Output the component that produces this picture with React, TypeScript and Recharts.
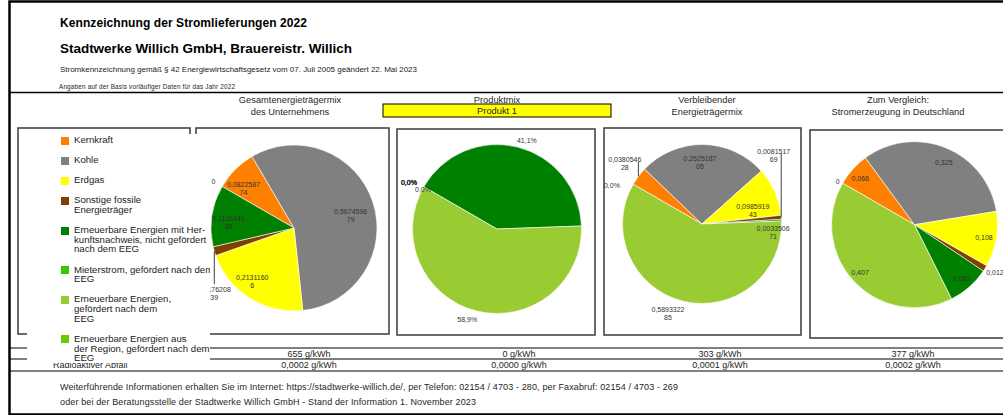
import React from "react";
import { PieChart, Pie, Cell, Legend } from "recharts";

const FONT = '"Liberation Sans", Arial, sans-serif';

// Energieträger (legend order = slice order)
const CATEGORIES = [
  "Kernkraft",
  "Kohle",
  "Erdgas",
  "Sonstige fossile\nEnergieträger",
  "Erneuerbare Energien mit Her-\nkunftsnachweis, nicht gefördert\nnach dem EEG",
  "Mieterstrom, gefördert nach dem\nEEG",
  "Erneuerbare Energien,\ngefördert nach dem\nEEG",
  "Erneuerbare Energien aus\nder Region, gefördert nach dem\nEEG",
];
const COLORS = ["#ff8000", "#808080", "#ffff00", "#804000", "#008000", "#33cc00", "#99cc33", "#66cc00"];

// Anteile je Mix
const GESAMT = [0.082258774, 0.567459679, 0.21311606, 0.017620839, 0.119544648, 0, 0, 0];
const PRODUKT = [0, 0, 0, 0, 0.411, 0, 0.589, 0];
const VERBLEIBEND = [0.038054628, 0.262518705, 0.098591943, 0.008151769, 0.003350671, 0, 0.589332285, 0];
const DEUTSCHLAND = [0.066, 0.325, 0.108, 0.012, 0.082, 0, 0.407, 0];

const COLUMN_TITLES = [
  ["Gesamtenergieträgermix", "des Unternehmens"],
  ["Produktmix"],
  ["Verbleibender", "Energieträgermix"],
  ["Zum Vergleich:", "Stromerzeugung in Deutschland"],
];
const PRODUCT_NAME = "Produkt 1";
const ROW_LABELS = ["CO₂-Emissionen", "Radioaktiver Abfall"];
const CO2 = [655, 0, 303, 377];
const ABFALL = [0.0002, 0, 0.0001, 0.0002];

// label placement: [radius factor, clockwise angle shift in deg, leader line]
type LabelPos = [number, number, boolean?] | null;
const GESAMT_LABELS: LabelPos[] = [[0.77, -7], [0.7, 5.5], [0.82, 5.6], [1.24, -23, true], [0.79, -4], null, null, [1.12, 0]];
const PRODUKT_LABELS: LabelPos[] = [[1.18, -2], [1.18, -2], [1.18, -2], [1.18, -2], [1.11, 4.6], null, [1.13, 4.2], [0.99, -2.2]];
const VERBLEIBEND_LABELS: LabelPos[] = [[1.23, 1, true], [0.77, -2.9], [0.66, 9.7], [1.25, -39, true], [0.9, 9.2], null, [1.21, 6.8], [1.23, -7.1]];
const DEUTSCHLAND_LABELS: LabelPos[] = [[0.86, -1.3], [0.83, 2.9], [0.85, 0], [1.13, -0.9], [0.86, 0], null, [0.87, 2.2], [1.06, -0.8]];

const fmtRaw = (v: number) => (v === 0 ? "0" : String(v).replace(".", ","));
const fmtPct = (v: number) => (v * 100).toFixed(1).replace(".", ",") + "%";
const fmtRest = (v: number) => (v === 0 ? fmtPct(v) : fmtRaw(v));
const fmtUnit = (v: number, d: number) => v.toFixed(d).replace(".", ",") + " g/kWh";

const PIES = [
  { key: "gesamt", values: GESAMT, cx: 294, cy: 228, r: 83, labels: GESAMT_LABELS, fmt: fmtRaw },
  { key: "produkt", values: PRODUKT, cx: 497, cy: 229, r: 84.5, labels: PRODUKT_LABELS, fmt: fmtPct },
  { key: "rest", values: VERBLEIBEND, cx: 702, cy: 224, r: 79.5, labels: VERBLEIBEND_LABELS, fmt: fmtRest },
  { key: "de", values: DEUTSCHLAND, cx: 914.5, cy: 224.7, r: 83, labels: DEUTSCHLAND_LABELS, fmt: fmtRaw },
];

const COL_X = [290, 497, 707, 898];
const ROW_X = [309, 519, 720, 913];

const RAD = Math.PI / 180;

const makeLabel = (layout: LabelPos[], fmt: (v: number) => string) => (props: any) => {
  const { cx, cy, midAngle, outerRadius, index, value } = props;
  const pos = layout[index];
  if (!pos) return null;
  const [f, shift, leader] = pos;
  const a = (midAngle - shift) * RAD;
  const x = cx + outerRadius * f * Math.cos(a);
  const y = cy - outerRadius * f * Math.sin(a);
  const s = fmt(value);
  const lines = s.length > 9 ? [s.slice(0, 9), s.slice(9)] : [s];
  const ex = cx + outerRadius * Math.cos(midAngle * RAD);
  const ey = cy - outerRadius * Math.sin(midAngle * RAD);
  return (
    <g key={`lbl-${index}`}>
      {leader && <line x1={ex} y1={ey} x2={ex} y2={y < ey ? y - 2 : y - 9} stroke="#404040" strokeWidth={1} />}
      <text x={x} y={y} textAnchor="middle" fontSize={7} fill="#333" fontFamily={FONT}>
        {lines.map((t, k) => (
          <tspan key={k} x={x} y={y + 2.5 + (lines.length > 1 ? (k === 0 ? -4 : 4) : 0)}>{t}</tspan>
        ))}
      </text>
    </g>
  );
};

const LegendBox = () => (
  <div style={{ paddingTop: 1, fontSize: 9.6, lineHeight: "9.7px", color: "#222", whiteSpace: "pre", fontFamily: FONT }}>
    {CATEGORIES.map((c, i) => (
      <div key={c} style={{ position: "relative", paddingLeft: 47, marginBottom: 10.4 }}>
        <span style={{ position: "absolute", left: 34, top: 1.5, width: 8, height: 8, background: COLORS[i] }} />
        {c}
      </div>
    ))}
  </div>
);

const BOXES = [
  [18, 128, 172, 206],
  [196, 128, 193, 206],
  [397, 129, 198, 206],
  [604, 128, 197, 207],
  [810, 130, 202, 208],
];

const Frame = () => (
  <svg width={1003} height={415} style={{ position: "absolute", left: 0, top: 0 }} fontFamily={FONT}>
    <path d="M1010 1.5 H9.5 V414.5 H1010" fill="none" stroke="#000" strokeWidth={2.5} />
    <line x1={9} y1={92.5} x2={1003} y2={92.5} stroke="#000" strokeWidth={1.5} />
    {[348, 359, 371].map((y) => (
      <line key={y} x1={9} y1={y} x2={1003} y2={y} stroke="#000" strokeWidth={1} />
    ))}
    {BOXES.map(([x, y, w, h]) => (
      <rect key={x} x={x} y={y} width={w} height={h} fill="none" stroke="#3a3a3a" strokeWidth={1.5} />
    ))}

    <text x={60} y={26.7} fontSize={12} fontWeight="bold" fill="#000" textLength={247}>Kennzeichnung der Stromlieferungen 2022</text>
    <text x={60} y={52.5} fontSize={13.5} fontWeight="bold" fill="#000" textLength={292}>Stadtwerke Willich GmbH, Brauereistr. Willich</text>
    <text x={60} y={72} fontSize={8} fill="#222" textLength={357}>Stromkennzeichnung gemäß § 42 Energiewirtschaftsgesetz vom 07. Juli 2005 geändert 22. Mai 2023</text>
    <text x={59} y={89.3} fontSize={6.3} fill="#222" textLength={176}>Angaben auf der Basis vorläufiger Daten für das Jahr 2022</text>

    {COLUMN_TITLES.map((lines, i) =>
      lines.map((t, k) => (
        <text key={`${i}-${k}`} x={COL_X[i]} y={102.5 + k * 12.8} fontSize={9.3} fill="#262626" textAnchor="middle">{t}</text>
      ))
    )}
    <rect x={383} y={104} width={228} height={13} fill="#ffff00" stroke="#000" strokeWidth={1} />
    <text x={497} y={114.2} fontSize={9.3} fill="#262626" textAnchor="middle">{PRODUCT_NAME}</text>

    <text x={53} y={356.8} fontSize={9} fill="#262626">{ROW_LABELS[0]}</text>
    <text x={53} y={368.3} fontSize={9} fill="#262626">{ROW_LABELS[1]}</text>
    {CO2.map((v, i) => (
      <text key={`c${i}`} x={ROW_X[i]} y={356.8} fontSize={9} fill="#262626" textAnchor="middle">{fmtUnit(v, 0)}</text>
    ))}
    {ABFALL.map((v, i) => (
      <text key={`a${i}`} x={ROW_X[i]} y={368.3} fontSize={9} fill="#262626" textAnchor="middle">{fmtUnit(v, 4)}</text>
    ))}

    <text x={60} y={390.2} fontSize={9} fill="#262626" textLength={618}>Weiterführende Informationen erhalten Sie im Internet: https://stadtwerke-willich.de/, per Telefon: 02154 / 4703 - 280, per Faxabruf: 02154 / 4703 - 269</text>
    <text x={60} y={405} fontSize={9} fill="#262626" textLength={416}>oder bei der Beratungsstelle der Stadtwerke Willich GmbH - Stand der Information 1. November 2023</text>
  </svg>
);

export default function App() {
  return (
    <div style={{ position: "absolute", left: 0, top: 0, width: 1003, height: 415, overflow: "hidden", background: "#fff", fontFamily: FONT }}>
      <Frame />
      <div style={{ position: "absolute", left: 0, top: 0 }}>
        <PieChart width={1003} height={415} margin={{ top: 0, right: 0, bottom: 0, left: 0 }}>
          {PIES.map((p) => (
            <Pie
              key={p.key}
              data={p.values.map((v, i) => ({ name: CATEGORIES[i], value: v }))}
              dataKey="value"
              nameKey="name"
              cx={p.cx}
              cy={p.cy}
              outerRadius={p.r}
              startAngle={150}
              endAngle={-210}
              stroke="#fff"
              strokeWidth={0.6}
              label={makeLabel(p.labels, p.fmt)}
              labelLine={false}
              isAnimationActive={false}
            >
              {p.values.map((_, i) => (
                <Cell key={i} fill={COLORS[i]} />
              ))}
            </Pie>
          ))}
          <Legend
            content={() => <LegendBox />}
            wrapperStyle={{ left: 27, top: 134, width: 183, height: 229, bottom: "auto", background: "#fff", overflow: "hidden", zIndex: 2 }}
          />
        </PieChart>
      </div>
    </div>
  );
}
